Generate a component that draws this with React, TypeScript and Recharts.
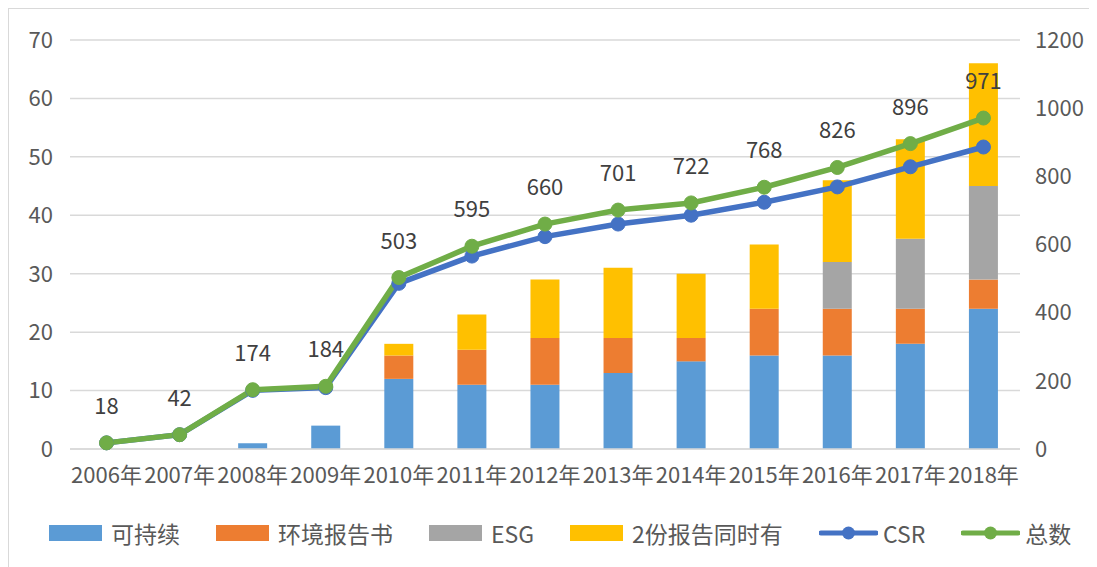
import React from "react";
import { ComposedChart, Bar, Line, XAxis, YAxis, CartesianGrid, Legend, LabelList } from "recharts";

const years = ["2006年", "2007年", "2008年", "2009年", "2010年", "2011年", "2012年", "2013年", "2014年", "2015年", "2016年", "2017年", "2018年"];
const sustain = [0, 0, 1, 4, 12, 11, 11, 13, 15, 16, 16, 18, 24];
const envReport = [0, 0, 0, 0, 4, 6, 8, 6, 4, 8, 8, 6, 5];
const esg = [0, 0, 0, 0, 0, 0, 0, 0, 0, 0, 8, 12, 16];
const both = [0, 0, 0, 0, 2, 6, 10, 12, 11, 11, 14, 17, 21];
const csr = [18, 42, 172, 180, 486, 566, 623, 660, 686, 724, 769, 828, 886];
const total = [18, 42, 174, 184, 503, 595, 660, 701, 722, 768, 826, 896, 971];
const leftTicks = [0, 10, 20, 30, 40, 50, 60, 70];
const rightTicks = [0, 200, 400, 600, 800, 1000, 1200];

const data = years.map((y, i) => ({
  year: y,
  sustain: sustain[i],
  envReport: envReport[i],
  esg: esg[i],
  both: both[i],
  csr: csr[i],
  total: total[i],
}));

const FONT = '"Noto Sans CJK SC", "Noto Sans", sans-serif';
const TXT = "#595959";

const legendItems = [
  { name: "可持续", color: "#5B9BD5", type: "rect" },
  { name: "环境报告书", color: "#ED7D31", type: "rect" },
  { name: "ESG", color: "#A5A5A5", type: "rect" },
  { name: "2份报告同时有", color: "#FFC000", type: "rect" },
  { name: "CSR", color: "#4472C4", type: "line" },
  { name: "总数", color: "#70AD47", type: "line" },
];

const renderLegend = () => (
  <div style={{ display: "flex", alignItems: "center", height: 70, width: 1085, paddingLeft: 40, boxSizing: "border-box", paddingTop: 4, fontFamily: FONT, whiteSpace: "nowrap" }}>
    {legendItems.map((it) => (
      <div key={it.name} style={{ display: "flex", alignItems: "center", marginRight: 36, flexShrink: 0 }}>
        {it.type === "rect" ? (
          <svg width={53} height={16} style={{ marginRight: 9, flexShrink: 0 }}>
            <rect x={0} y={0} width={53} height={16} fill={it.color} />
          </svg>
        ) : (
          <svg width={59} height={16} style={{ marginRight: 5, flexShrink: 0 }}>
            <line x1={2} y1={8} x2={57} y2={8} stroke={it.color} strokeWidth={5} strokeLinecap="round" />
            <circle cx={29.5} cy={8} r={6.5} fill={it.color} />
          </svg>
        )}
        <span style={{ fontSize: 23, color: TXT, whiteSpace: "nowrap" }}>{it.name}</span>
      </div>
    ))}
  </div>
);

export default function App() {
  return (
    <div style={{ borderTop: "1px solid #D9D9D9", borderLeft: "1px solid #D9D9D9", width: 1085, height: 559, background: "#fff" }}>
      <ComposedChart
        width={1085}
        height={557}
        data={data}
        margin={{ top: 31, right: 0, bottom: 0, left: 0 }}
        barSize={29}
        style={{ fontFamily: FONT }}
      >
        <CartesianGrid vertical={false} stroke="#D9D9D9" strokeWidth={1.5} yAxisId="left" />
        <XAxis
          dataKey="year"
          interval={0}
          tickLine={false}
          axisLine={{ stroke: "#D9D9D9", strokeWidth: 1.5 }}
          tickMargin={12}
          height={47}
          tick={{ fill: TXT, fontSize: 22 }}
        />
        <YAxis
          yAxisId="left"
          domain={[0, 70]}
          ticks={leftTicks}
          width={61}
          axisLine={false}
          tickLine={false}
          tickMargin={11}
          tick={{ fill: TXT, fontSize: 22 }}
        />
        <YAxis
          yAxisId="right"
          orientation="right"
          domain={[0, 1200]}
          ticks={rightTicks}
          width={74}
          axisLine={false}
          tickLine={false}
          tickMargin={9}
          tick={{ fill: TXT, fontSize: 22, textAnchor: "start" }}
        />
        <Legend verticalAlign="bottom" height={70} wrapperStyle={{ width: 1085, left: 0 }} content={renderLegend} />
        <Bar yAxisId="left" dataKey="sustain" name="可持续" stackId="a" fill="#5B9BD5" isAnimationActive={false} />
        <Bar yAxisId="left" dataKey="envReport" name="环境报告书" stackId="a" fill="#ED7D31" isAnimationActive={false} />
        <Bar yAxisId="left" dataKey="esg" name="ESG" stackId="a" fill="#A5A5A5" isAnimationActive={false} />
        <Bar yAxisId="left" dataKey="both" name="2份报告同时有" stackId="a" fill="#FFC000" isAnimationActive={false} />
        <Line
          yAxisId="right"
          dataKey="csr"
          name="CSR"
          stroke="#4472C4"
          strokeWidth={5.5}
          dot={{ r: 7, fill: "#4472C4", stroke: "#4472C4", strokeWidth: 1 }}
          isAnimationActive={false}
        />
        <Line
          yAxisId="right"
          dataKey="total"
          name="总数"
          stroke="#70AD47"
          strokeWidth={5.5}
          dot={{ r: 7, fill: "#70AD47", stroke: "#70AD47", strokeWidth: 1 }}
          isAnimationActive={false}
        >
          <LabelList dataKey="total" position="top" offset={29} fill="#404040" fontSize={22} />
        </Line>
      </ComposedChart>
    </div>
  );
}
